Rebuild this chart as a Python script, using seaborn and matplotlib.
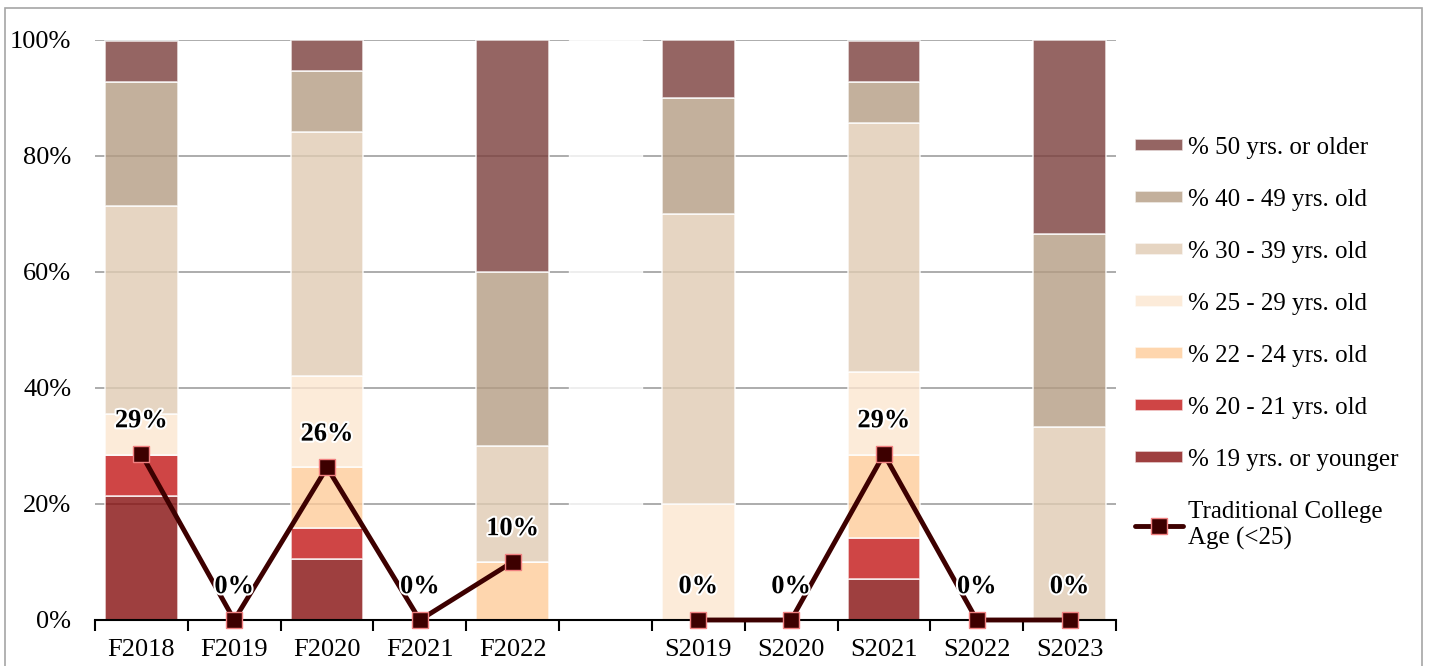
import matplotlib
matplotlib.use("Agg")
import matplotlib.pyplot as plt
import matplotlib.patheffects as pe
from matplotlib.patches import Rectangle
from matplotlib.ticker import FixedLocator
import numpy as np
import pandas as pd
import seaborn as sns

sns.set_style("white")
plt.rcParams["font.family"] = ["Liberation Serif", "DejaVu Serif"]
plt.rcParams["text.color"] = "black"
plt.rcParams["xtick.color"] = "black"
plt.rcParams["ytick.color"] = "black"

# terms, with an empty slot between the fall and spring groups
terms = ["F2018", "F2019", "F2020", "F2021", "F2022", "",
         "S2019", "S2020", "S2021", "S2022", "S2023"]

groups = ["% 19 yrs. or younger", "% 20 - 21 yrs. old", "% 22 - 24 yrs. old",
          "% 25 - 29 yrs. old", "% 30 - 39 yrs. old", "% 40 - 49 yrs. old",
          "% 50 yrs. or older"]

age_19 = [21.4, 0, 10.5, 0, 0, 0, 0, 0, 7.1, 0, 0]
age_20_21 = [7.1, 0, 5.3, 0, 0, 0, 0, 0, 7.1, 0, 0]
age_22_24 = [0, 0, 10.5, 0, 10.0, 0, 0, 0, 14.3, 0, 0]
age_25_29 = [7.1, 0, 15.8, 0, 0, 0, 20.0, 0, 14.3, 0, 0]
age_30_39 = [35.7, 0, 42.1, 0, 20.0, 0, 50.0, 0, 42.9, 0, 33.3]
age_40_49 = [21.4, 0, 10.5, 0, 30.0, 0, 20.0, 0, 7.1, 0, 33.3]
age_50 = [7.1, 0, 5.3, 0, 40.0, 0, 10.0, 0, 7.1, 0, 33.4]

# traditional college age (<25), two separate runs
fall_terms = ["F2018", "F2019", "F2020", "F2021", "F2022"]
fall_trad = [28.6, 0, 26.3, 0, 10.0]
spring_terms = ["S2019", "S2020", "S2021", "S2022", "S2023"]
spring_trad = [0, 0, 28.6, 0, 0]

colors = ["#860f0f", "#c41616", "#fecc9a", "#fce6d0", "#e0cbb3", "#b49c83", "#7b3f3c"]
series = [age_19, age_20_21, age_22_24, age_25_29, age_30_39, age_40_49, age_50]

FS = 19

fig = plt.figure(figsize=(14.3, 6.66), dpi=100)
ax = fig.add_axes([95 / 1430, 46 / 666, (1116 - 95) / 1430, 580 / 666])

bottom = np.zeros(len(terms))
for name, vals, col in zip(groups, series, colors):
    df = pd.DataFrame({"term": terms, "pct": vals})
    sns.barplot(data=df, x="term", y="pct", order=terms, bottom=bottom.copy(),
                color=col, saturation=1, alpha=0.8, width=0.78, edgecolor="white",
                linewidth=1.2, ax=ax, errorbar=None)
    bottom += np.array(vals)
bar_handles = list(ax.containers)

# faint white block in the empty slot
gap = terms.index("")
ax.bar(gap, 100, width=0.78, color="white", alpha=0.8, zorder=1.5)

line_kw = dict(color="#3d0000", lw=3.5, marker="s", markersize=11,
               markeredgecolor="#f08080", markeredgewidth=1, clip_on=False, zorder=5)
fx = [terms.index(t) for t in fall_terms]
sx = [terms.index(t) for t in spring_terms]
line, = ax.plot(fx, fall_trad, **line_kw)
ax.plot(sx, spring_trad, **line_kw)

for xs, ys in [(fx, fall_trad), (sx, spring_trad)]:
    for x, y in zip(xs, ys):
        ax.annotate(f"{y:.0f}%", (x, y), xytext=(0, 24), textcoords="offset points",
                    ha="center", va="center", fontsize=FS, fontweight="bold",
                    path_effects=[pe.withStroke(linewidth=3, foreground="white")],
                    zorder=6)

ax.set_xlim(-0.5, len(terms) - 0.5)
ax.set_ylim(0, 100)
ax.set_yticks([0, 20, 40, 60, 80, 100])
ax.set_yticklabels([f"{v}%" for v in [0, 20, 40, 60, 80, 100]])
ax.set_xlabel("")
ax.set_ylabel("")
ax.set_axisbelow(True)
ax.yaxis.grid(True, color="#a6a6a6", lw=1.3)
ax.xaxis.grid(False)
for s in ["left", "right", "top"]:
    ax.spines[s].set_visible(False)
ax.spines["bottom"].set_color("black")
ax.spines["bottom"].set_linewidth(1.5)
ax.spines["bottom"].set_zorder(4)
ax.xaxis.set_minor_locator(FixedLocator(np.arange(-0.5, len(terms), 1.0)))
ax.tick_params(axis="x", which="major", length=0, pad=14, labelsize=FS)
ax.tick_params(axis="x", which="minor", length=8, width=1.5, direction="out",
               color="black", bottom=True)
ax.tick_params(axis="y", length=0, pad=17, labelsize=FS)

leg = fig.legend(bar_handles[::-1] + [line], groups[::-1] + ["Traditional College\nAge (<25)"],
                 loc="upper left", bbox_to_anchor=(1135 / 1430, 1 - 137 / 666), frameon=False,
                 fontsize=18, labelspacing=1.2, handlelength=1.9, handleheight=0.4,
                 handletextpad=0.2, borderpad=0, borderaxespad=0)

fig.add_artist(Rectangle((5 / 1430, -0.05), (1422 - 5) / 1430, 1 - 8 / 666 + 0.05,
                         transform=fig.transFigure, fill=False,
                         edgecolor="#a6a6a6", lw=1.2))

fig.savefig("out.png", dpi=100)
